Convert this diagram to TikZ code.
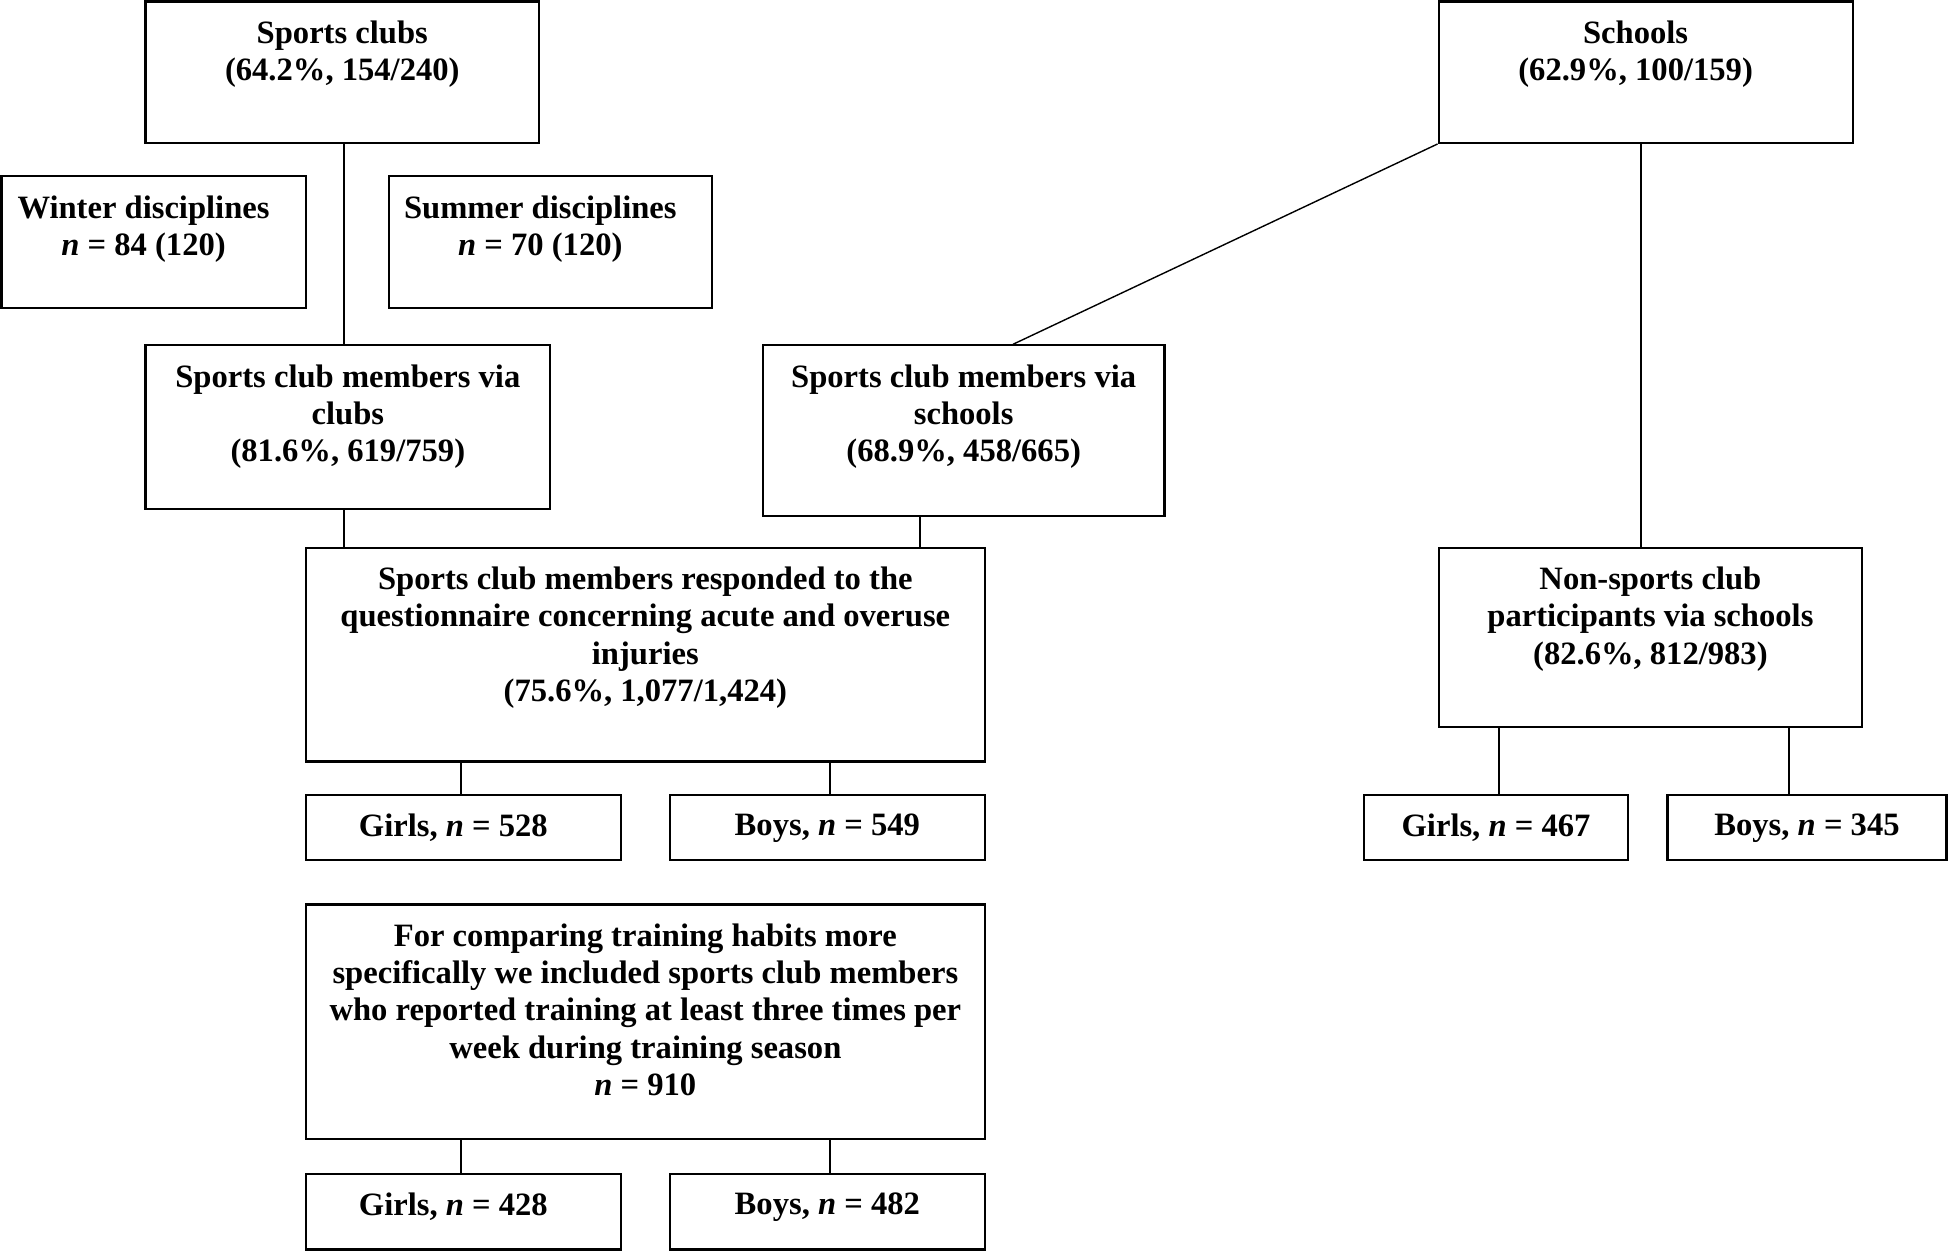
\documentclass[tikz,border=0pt]{standalone}
\usepackage{fontspec}
\setmainfont{Liberation Serif}
\usetikzlibrary{fit,calc}
\begin{document}
\begin{tikzpicture}[x=0.5pt,y=-0.5pt,
  bx/.style={draw, line width=1.1pt, inner sep=0pt},
  tx/.style={anchor=north, align=center, inner sep=0pt, font=\fontsize{16.3}{18.65}\selectfont\bfseries},
  ln/.style={line width=0.7pt}]
\useasboundingbox (0,0) rectangle (1948,1251);
% boxes
\node[bx, fit={(145.4,1.5) (539.2,142.9)}] (sc) {};
\node[bx, fit={(1.5,176.4) (305.6,308.1)}] (win) {};
\node[bx, fit={(388.8,176.4) (711.8,308.1)}] (sum) {};
\node[bx, fit={(145.4,345.4) (550.3,509.3)}] (vc) {};
\node[bx, fit={(762.8,345.4) (1164.5,515.6)}] (vs) {};
\node[bx, fit={(1438.6,1.5) (1852.6,142.9)}] (sch) {};
\node[bx, fit={(1438.6,547.9) (1862.2,726.7)}] (ns) {};
\node[bx, fit={(305.6,547.9) (985.1,761.5)}] (resp) {};
\node[bx, fit={(305.6,795.1) (621,859.7)}] (g1) {};
\node[bx, fit={(669.6,795.1) (985.1,859.7)}] (b1) {};
\node[bx, fit={(1364,795.1) (1628,859.7)}] (g2) {};
\node[bx, fit={(1667.5,795.1) (1946.5,859.7)}] (b2) {};
\node[bx, fit={(305.6,904.4) (985.1,1139.2)}] (tr) {};
\node[bx, fit={(305.6,1174) (621,1249.5)}] (g3) {};
\node[bx, fit={(669.6,1174) (985.1,1249.5)}] (b3) {};
% texts
\node[tx] (sc-t) at ([yshift=-9.9pt]sc.north) {Sports clubs\\(64.2\%, 154/240)};
\node[tx] (win-t) at ([xshift=-5pt,yshift=-9.9pt]win.north) {Winter disciplines\\\textit{n} = 84 (120)};
\node[tx] (sum-t) at ([xshift=-5pt,yshift=-9.9pt]sum.north) {Summer disciplines\\\textit{n} = 70 (120)};
\node[tx] (vc-t) at ([yshift=-9.9pt]vc.north) {Sports club members via\\clubs\\(81.6\%, 619/759)};
\node[tx] (vs-t) at ([yshift=-9.9pt]vs.north) {Sports club members via\\schools\\(68.9\%, 458/665)};
\node[tx] (sch-t) at ([xshift=-5pt,yshift=-9.9pt]sch.north) {Schools\\(62.9\%, 100/159)};
\node[tx] (resp-t) at ([yshift=-9.9pt]resp.north) {Sports club members responded to the\\questionnaire concerning acute and overuse\\injuries\\(75.6\%, 1,077/1,424)};
\node[tx] (ns-t) at ([yshift=-9.9pt]ns.north) {Non-sports club\\participants via schools\\(82.6\%, 812/983)};
\node[tx] (g1-t) at ([xshift=-5pt,yshift=-9.9pt]g1.north) {Girls, \textit{n} = 528};
\node[tx] (b1-t) at ([yshift=-9.9pt]b1.north) {Boys, \textit{n} = 549};
\node[tx] (g2-t) at ([yshift=-9.9pt]g2.north) {Girls, \textit{n} = 467};
\node[tx] (b2-t) at ([yshift=-9.9pt]b2.north) {Boys, \textit{n} = 345};
\node[tx] (tr-t) at ([yshift=-9.9pt]tr.north) {For comparing training habits more\\specifically we included sports club members\\who reported training at least three times per\\week during training season\\\textit{n} = 910};
\node[tx] (g3-t) at ([xshift=-5pt,yshift=-9.9pt]g3.north) {Girls, \textit{n} = 428};
\node[tx] (b3-t) at ([yshift=-9.9pt]b3.north) {Boys, \textit{n} = 482};
% connector x positions
\coordinate (cx1) at (344,0);
\coordinate (cx2) at (920,0);
\coordinate (cx3) at (1013,0);
\coordinate (cx4) at (1641,0);
\coordinate (cx5) at (461,0);
\coordinate (cx6) at (830,0);
\coordinate (cx7) at (1499,0);
\coordinate (cx8) at (1789,0);
% connectors
\draw[ln] (sc.south -| cx1) -- (vc.north -| cx1);
\draw[ln] (vc.south -| cx1) -- (resp.north -| cx1);
\draw[ln] (vs.south -| cx2) -- (resp.north -| cx2);
\draw[ln] (sch.south west) -- (vs.north -| cx3);
\draw[ln] (sch.south -| cx4) -- (ns.north -| cx4);
\draw[ln] (resp.south -| cx5) -- (g1.north -| cx5);
\draw[ln] (resp.south -| cx6) -- (b1.north -| cx6);
\draw[ln] (ns.south -| cx7) -- (g2.north -| cx7);
\draw[ln] (ns.south -| cx8) -- (b2.north -| cx8);
\draw[ln] (tr.south -| cx5) -- (g3.north -| cx5);
\draw[ln] (tr.south -| cx6) -- (b3.north -| cx6);
\end{tikzpicture}
\end{document}
